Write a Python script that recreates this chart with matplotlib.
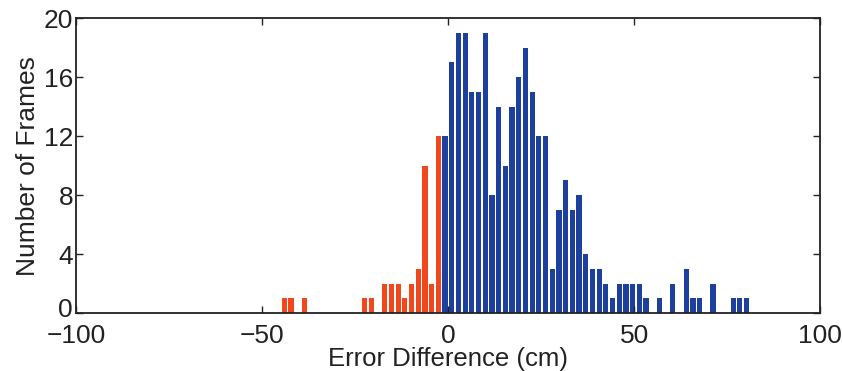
import numpy as np
import matplotlib
matplotlib.use('Agg')
import matplotlib.pyplot as plt
import matplotlib.transforms as mtransforms

plt.rcParams['font.family'] = ['Liberation Sans', 'DejaVu Sans']

# 直方图各个 bin 的中心 (cm) 和计数
bin_centers = [-44.0, -42.2, -40.4, -38.6, -36.8, -35.0, -33.2, -31.4, -29.6, -27.8,
               -26.0, -24.2, -22.4, -20.6, -18.8, -17.0, -15.2, -13.4, -11.6, -9.8,
               -8.0, -6.2, -4.4, -2.6,
               -0.8, 1.0, 2.8, 4.6, 6.4, 8.2, 10.0, 11.8, 13.6, 15.4,
               17.2, 19.0, 20.8, 22.6, 24.4, 26.2, 28.0, 29.8, 31.6, 33.4,
               35.2, 37.0, 38.8, 40.6, 42.4, 44.2, 46.0, 47.8, 49.6, 51.4,
               53.2, 55.0, 56.8, 58.6, 60.4, 62.2, 64.0, 65.8, 67.6, 69.4,
               71.2, 73.0, 74.8, 76.6, 78.4, 80.2]
counts = [1, 1, 0, 1, 0, 0, 0, 0, 0, 0,
          0, 0, 1, 1, 0, 2, 2, 2, 1, 2,
          3, 10, 2, 12,
          12, 17, 19, 19, 15, 15, 19, 8, 14, 10,
          14, 16, 18, 15, 12, 12, 3, 7, 9, 7,
          8, 4, 3, 3, 2, 1, 2, 2, 2, 2,
          1, 0, 1, 0, 2, 0, 3, 1, 1, 0,
          2, 0, 0, 1, 1, 1]
bin_width = 1.8

x_ticks = [-100, -50, 0, 50, 100]
y_ticks = [0, 4, 8, 12, 16, 20]

ORANGE = '#f0481c'
BLUE = '#1d3f9e'

centers = np.array(bin_centers)
vals = np.array(counts)
colors = [ORANGE if c < -1.5 else BLUE for c in centers]

fig = plt.figure(figsize=(8.43, 3.71), dpi=100)
ax = fig.add_axes([0.090, 0.156, 0.883, 0.795])

ax.bar(centers, vals, width=bin_width * 0.78, color=colors, edgecolor='none')

ax.set_xlim(-100, 100)
ax.set_ylim(0, 20)
ax.set_xticks(x_ticks)
ax.set_yticks(y_ticks)
ax.set_xticklabels([f'{t}'.replace('-', '\u2212') for t in x_ticks])
ax.tick_params(direction='in', top=True, right=True, length=5, width=1,
               labelsize=19, colors='#222222')
ax.tick_params(axis='y', pad=2)
ax.tick_params(axis='x', pad=8)
for s in ax.spines.values():
    s.set_linewidth(1.3)
    s.set_color('#222222')

# "0" 稍微往上挪一点，免得和 -100 挤在一起
lbl0 = ax.get_yticklabels()[0]
lbl0.set_transform(lbl0.get_transform() + mtransforms.ScaledTranslation(0, 4 / 72, fig.dpi_scale_trans))

ax.set_xlabel('Error Difference (cm)', fontsize=18.5, labelpad=-1, color='#222222')
ax.set_ylabel('Number of Frames', fontsize=19, labelpad=3, color='#222222')

plt.savefig('out.png', dpi=100)
plt.close()
